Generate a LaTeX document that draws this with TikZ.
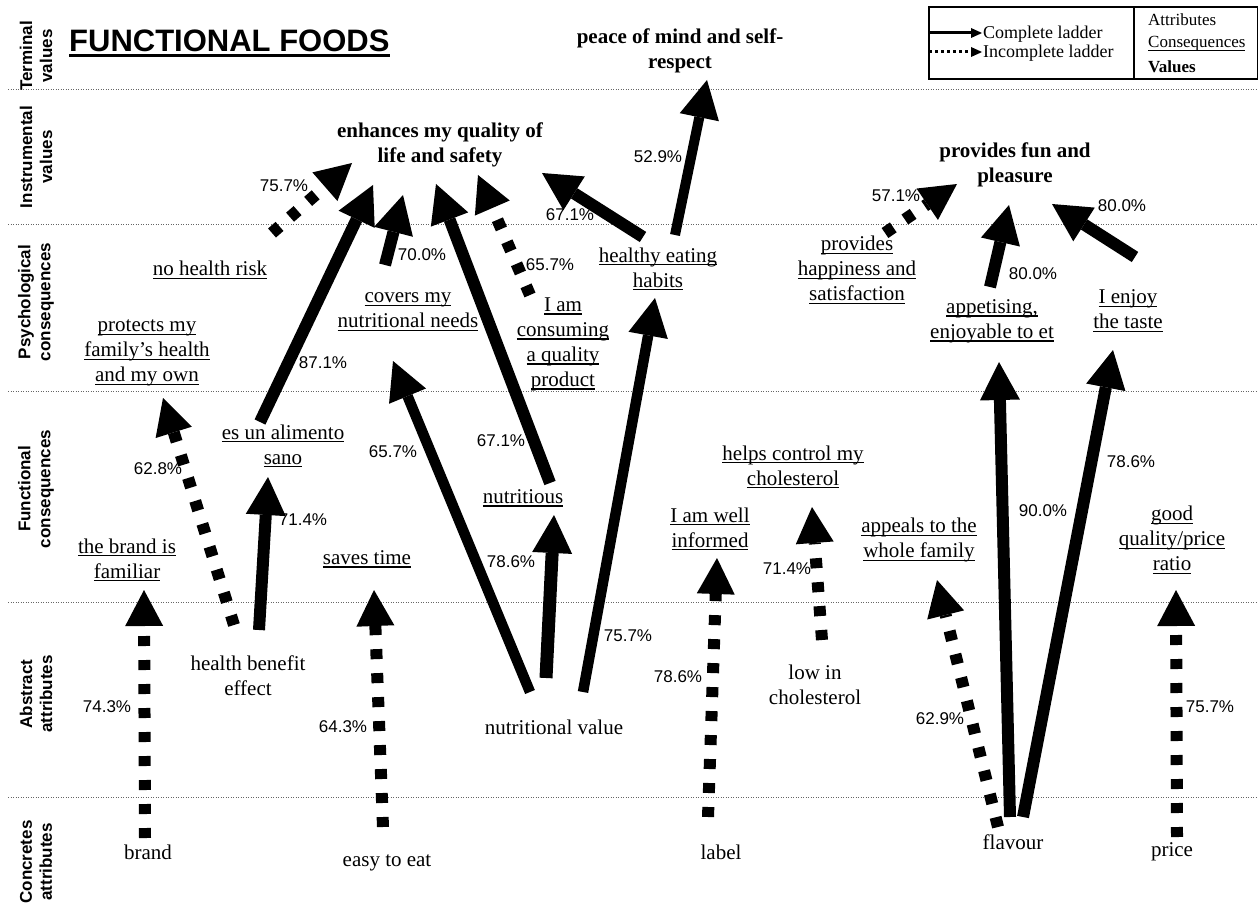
\documentclass[tikz,border=0pt]{standalone}
\usepackage{fontspec}
\setmainfont{Liberation Serif}
\newfontfamily\arialf{Liberation Sans}
\newsavebox{\ulnbox}
\newcommand{\uln}[1]{\sbox{\ulnbox}{#1}\rlap{\rule[-3.4pt]{\wd\ulnbox}{1.2pt}}\usebox{\ulnbox}}
\usetikzlibrary{arrows.meta,calc}
\begin{document}
\begin{tikzpicture}[x=1pt,y=-1pt,
  txt/.style={font=\fontsize{21}{25}\selectfont, align=center, inner sep=0pt},
  val/.style={font=\fontsize{21}{25}\selectfont\bfseries, align=center, inner sep=0pt},
  pct/.style={font=\arialf\fontsize{17}{20}\selectfont, inner sep=0pt},
  axislab/.style={font=\arialf\bfseries\fontsize{17}{20}\selectfont, rotate=90, align=center, inner sep=0pt},
  fullarr/.style={line width=12pt, -{Triangle[length=38pt,width=40pt,line width=0pt]}},
  partarr/.style={line width=12pt, dash pattern=on 10pt off 14pt, -{Triangle[length=36pt,width=38pt,line width=0pt]}},
  sepline/.style={gray!80!black, line width=0.8pt, dash pattern=on 1pt off 1.5pt}
]
\useasboundingbox (0,0) rectangle (1258,904);
\fill[white] (0,0) rectangle (1258,904);

% level separators
\foreach \yy in {89,224,391,602,797}
  \draw[sepline] (8,\yy) -- (1258,\yy);

% axis labels
\node[axislab] (ax1) at (36,56) {Terminal\\values};
\node[axislab] (ax2) at (36,157) {Instrumental\\values};
\node[axislab] (ax3) at (36,302) {Psychological\\consequences};
\node[axislab] (ax4) at (36,489) {Functional\\consequences};
\node[axislab] (ax5) at (36,694) {Abstract\\attributes};
\node[axislab] (ax6) at (36,862) {Concretes\\attributes};

% title
\node[font=\arialf\bfseries\fontsize{31}{36}\selectfont, inner sep=0pt, anchor=base west] (title) at (69,52) {FUNCTIONAL FOODS};
\draw[line width=3pt] ($(title.base west)+(0,3.5)$) -- ($(title.base east)+(0,3.5)$);

% legend
\draw[line width=1.2pt] (929,7) rectangle (1257.4,79);
\draw[line width=2pt] (1134,7) -- (1134,79);
\coordinate (lg1a) at (929,33);
\coordinate (lg1b) at (982,33);
\coordinate (lg2a) at (929,52);
\coordinate (lg2b) at (982,52);
\draw[line width=3pt, -{Triangle[length=11pt,width=10pt,line width=0pt]}] (lg1a) -- (lg1b);
\draw[line width=3pt, dash pattern=on 3pt off 3pt, -{Triangle[length=11pt,width=10pt,line width=0pt]}] (lg2a) -- (lg2b);
\node[font=\fontsize{18}{20}\selectfont, inner sep=0pt, anchor=west] (lgc) at (983,34) {Complete ladder};
\node[font=\fontsize{18}{20}\selectfont, inner sep=0pt, anchor=west] (lgi) at (983,53) {Incomplete ladder};
\node[font=\fontsize{17}{20}\selectfont, inner sep=0pt, anchor=west] (lga) at (1148,20) {Attributes};
\node[font=\fontsize{17}{20}\selectfont, inner sep=0pt, anchor=west] (lgcs) at (1148,44) {\uln{Consequences}};
\node[font=\fontsize{17}{20}\selectfont\bfseries, inner sep=0pt, anchor=west] (lgv) at (1148,67) {Values};

% values
\node[val] (enh) at (440,145) {enhances my quality of\\life and safety};
\node[val] (peace) at (680,51) {peace of mind and self-\\respect};
\node[val] (fun) at (1015,165) {provides fun and\\pleasure};

% consequences
\node[txt] (nohealth) at (210,270) {\uln{no health risk}};
\node[txt] (protects) at (147,353) {\uln{protects my}\\\uln{family’s health}\\\uln{and my own}};
\node[txt] (covers) at (408,312) {\uln{covers my}\\\uln{nutritional needs}};
\node[txt] (consuming) at (563,344) {\uln{I am}\\\uln{consuming}\\\uln{a quality}\\\uln{product}};
\node[txt] (healthy) at (658,269) {\uln{healthy eating}\\\uln{habits}};
\node[txt] (happy) at (857,270) {\uln{provides}\\\uln{happiness and}\\\uln{satisfaction}};
\node[txt] (appet) at (992,321) {\uln{appetising,}\\\uln{enjoyable to et}};
\node[txt] (taste) at (1128,311) {\uln{I enjoy}\\\uln{the taste}};
\node[txt] (sano) at (283,446) {\uln{es un alimento}\\\uln{sano}};
\node[txt] (familiar) at (127,560) {\uln{the brand is}\\\uln{familiar}};
\node[txt] (saves) at (367,559) {\uln{saves time}};
\node[txt] (nutritious) at (523,498) {\uln{nutritious}};
\node[txt] (helps) at (793,467) {\uln{helps control my}\\\uln{cholesterol}};
\node[txt] (informed) at (710,529) {\uln{I am well}\\\uln{informed}};
\node[txt] (appeals) at (919,540) {\uln{appeals to the}\\\uln{whole family}};
\node[txt] (gqpr) at (1172,540) {\uln{good}\\\uln{quality/price}\\\uln{ratio}};

% attributes
\node[txt] (hbe) at (248,676) {health benefit\\effect};
\node[txt] (nv) at (554,727) {nutritional value};
\node[txt] (lowchol) at (815,685) {low in\\cholesterol};
\node[txt] (brand) at (148,852) {brand};
\node[txt] (easy) at (387,863) {easy to eat};
\node[txt] (label) at (721,852) {label};
\node[txt] (flavour) at (1013,842) {flavour};
\node[txt] (price) at (1172,852) {price};

% ladders
\draw[partarr] ($(brand)+(-3,-14)$) -- ($(familiar)+(17,30)$);
\draw[partarr] ($(hbe)+(-14,-51)$) -- ($(protects)+(16,45)$);
\draw[fullarr] ($(hbe)+(11,-46)$) -- ($(sano)+(-15,31)$);
\draw[fullarr] ($(sano)+(-23,-24)$) -- ($(enh)+(-67,40)$);
\draw[partarr] ($(easy)+(-4,-36)$) -- ($(saves)+(7,31)$);
\draw[fullarr, line width=10.5pt] ($(nv)+(-24,-35)$) -- ($(covers)+(-15,49)$);
\draw[fullarr] ($(covers)+(-23,-47)$) -- ($(enh)+(-37,50)$);
\draw[fullarr, line width=13pt] ($(nv)+(-8,-49)$) -- ($(nutritious)+(31,17)$);
\draw[fullarr] ($(nutritious)+(27,-15)$) -- ($(enh)+(-4,39)$);
\draw[partarr] ($(consuming)+(-33,-49)$) -- ($(enh)+(38,30)$);
\draw[partarr] ($(nohealth)+(62,-37)$) -- ($(enh)+(-88,18)$);
\draw[fullarr, line width=10.5pt] ($(nv)+(29,-35)$) -- ($(healthy)+(-3,29)$);
\draw[fullarr] ($(healthy)+(-15,-32)$) -- ($(enh)+(102,28)$);
\draw[fullarr, line width=10pt] ($(healthy)+(17,-34)$) -- ($(peace)+(27,29)$);
\draw[partarr] ($(label)+(-13,-35)$) -- ($(informed)+(7,29)$);
\draw[partarr] ($(lowchol)+(7,-45)$) -- ($(helps)+(19,40)$);
\draw[partarr] ($(flavour)+(-15,-15)$) -- ($(appeals)+(18,40)$);
\draw[fullarr] ($(flavour)+(-3,-25)$) -- ($(appet)+(7,41)$);
\draw[fullarr] ($(flavour)+(10,-25)$) -- ($(taste)+(-15,39)$);
\draw[partarr] ($(price)+(5,-15)$) -- ($(gqpr)+(4,50)$);
\draw[partarr] ($(happy)+(28,-37)$) -- ($(fun)+(-58,19)$);
\draw[fullarr] ($(appet)+(-2,-34)$) -- ($(fun)+(-6,40)$);
\draw[fullarr] ($(taste)+(7,-54)$) -- ($(fun)+(37,39)$);

% percentages
\node[pct] (p1) at (107,707) {74.3\%};
\node[pct] (p2) at (158,469) {62.8\%};
\node[pct] (p3) at (303,520) {71.4\%};
\node[pct] (p4) at (343,727) {64.3\%};
\node[pct] (p5) at (393,452) {65.7\%};
\node[pct] (p6) at (323,363) {87.1\%};
\node[pct] (p7) at (422,255) {70.0\%};
\node[pct] (p8) at (284,186) {75.7\%};
\node[pct] (p9) at (501,441) {67.1\%};
\node[pct] (p10) at (511,562) {78.6\%};
\node[pct] (p11) at (628,636) {75.7\%};
\node[pct] (p12) at (550,265) {65.7\%};
\node[pct] (p13) at (570,215) {67.1\%};
\node[pct] (p14) at (658,157) {52.9\%};
\node[pct] (p15) at (678,677) {78.6\%};
\node[pct] (p16) at (787,569) {71.4\%};
\node[pct] (p17) at (896,196) {57.1\%};
\node[pct] (p18) at (1033,274) {80.0\%};
\node[pct] (p19) at (1122,206) {80.0\%};
\node[pct] (p20) at (1043,511) {90.0\%};
\node[pct] (p21) at (1131,462) {78.6\%};
\node[pct] (p22) at (940,719) {62.9\%};
\node[pct] (p23) at (1210,707) {75.7\%};
\end{tikzpicture}
\end{document}
